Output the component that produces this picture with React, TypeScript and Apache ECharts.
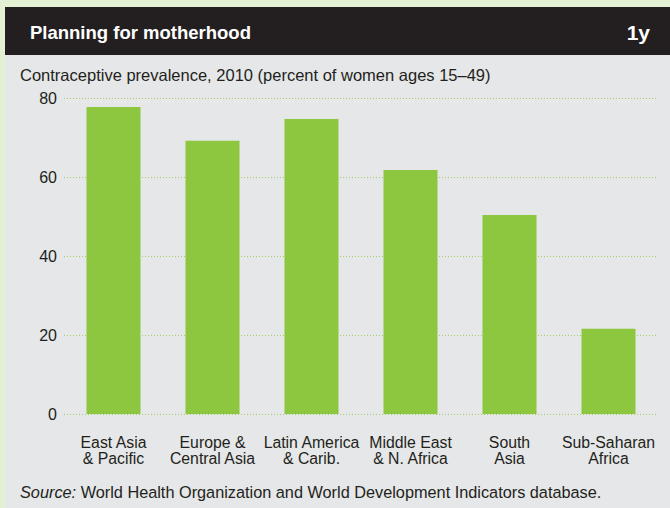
import React, { useEffect, useRef } from "react";
import * as echarts from "echarts";

const categories = [
  "East Asia\n& Pacific",
  "Europe &\nCentral Asia",
  "Latin America\n& Carib.",
  "Middle East\n& N. Africa",
  "South\nAsia",
  "Sub-Saharan\nAfrica",
];
const prevalence = [77.7, 69.2, 74.7, 61.8, 50.4, 21.6];
const yTicks = { min: 0, max: 80, interval: 20 };

const titleText = "Planning for motherhood";
const tagText = "1y";
const subtitleText = "Contraceptive prevalence, 2010 (percent of women ages 15–49)";
const sourceLabel = "Source:";
const sourceText = " World Health Organization and World Development Indicators database.";

const FONT = "Liberation Sans, Arial, sans-serif";
const TEXT = "#231f20";

export default function App() {
  const ref = useRef<HTMLDivElement>(null);
  useEffect(() => {
    document.body.style.margin = "0";
    const chart = echarts.init(ref.current!, null, { renderer: "svg" });
    chart.setOption({
      animation: false,
      backgroundColor: "#e4f0d4",
      graphic: [
        { type: "rect", z: -10, shape: { x: 5, y: 7, width: 665, height: 48 }, style: { fill: "#231f20" } },
        { type: "rect", z: -10, shape: { x: 5, y: 55, width: 665, height: 453 }, style: { fill: "#e6e7e8" } },
        {
          type: "text", x: 30, y: 32,
          style: { text: titleText, fill: "#ffffff", font: `bold 18.5px ${FONT}`, textVerticalAlign: "middle" },
        },
        {
          type: "text", x: 650, y: 32,
          style: { text: tagText, fill: "#ffffff", font: `bold 21px ${FONT}`, textAlign: "right", textVerticalAlign: "middle" },
        },
        {
          type: "text", x: 20, y: 75,
          style: { text: subtitleText, fill: TEXT, font: `16.5px ${FONT}`, textVerticalAlign: "middle" },
        },
        {
          type: "text", x: 20, y: 492,
          style: {
            text: `{i|${sourceLabel}}{n|${sourceText}}`,
            textVerticalAlign: "middle",
            rich: {
              i: { fontStyle: "italic", fontSize: 16.3, fontFamily: FONT, fill: TEXT, color: TEXT },
              n: { fontSize: 16.3, fontFamily: FONT, fill: TEXT, color: TEXT },
            },
          },
        },
      ],
      grid: { left: 64, right: 12, top: 98, bottom: 94 },
      xAxis: {
        type: "category",
        data: categories,
        axisLine: { show: false },
        axisTick: { show: false },
        axisLabel: { color: TEXT, fontSize: 15.8, fontFamily: FONT, lineHeight: 16, margin: 20, interval: 0 },
      },
      yAxis: {
        type: "value",
        min: yTicks.min,
        max: yTicks.max,
        interval: yTicks.interval,
        axisLine: { show: false },
        axisTick: { show: false },
        axisLabel: { color: TEXT, fontSize: 16, fontFamily: FONT, margin: 7 },
        splitLine: { lineStyle: { color: "#a3cc66", type: [1, 2], width: 1 } },
      },
      series: [
        {
          type: "bar",
          data: prevalence,
          barWidth: 54,
          itemStyle: { color: "#8dc63f" },
        },
      ],
    });
    return () => chart.dispose();
  }, []);
  return <div ref={ref} style={{ width: 670, height: 508 }} />;
}
